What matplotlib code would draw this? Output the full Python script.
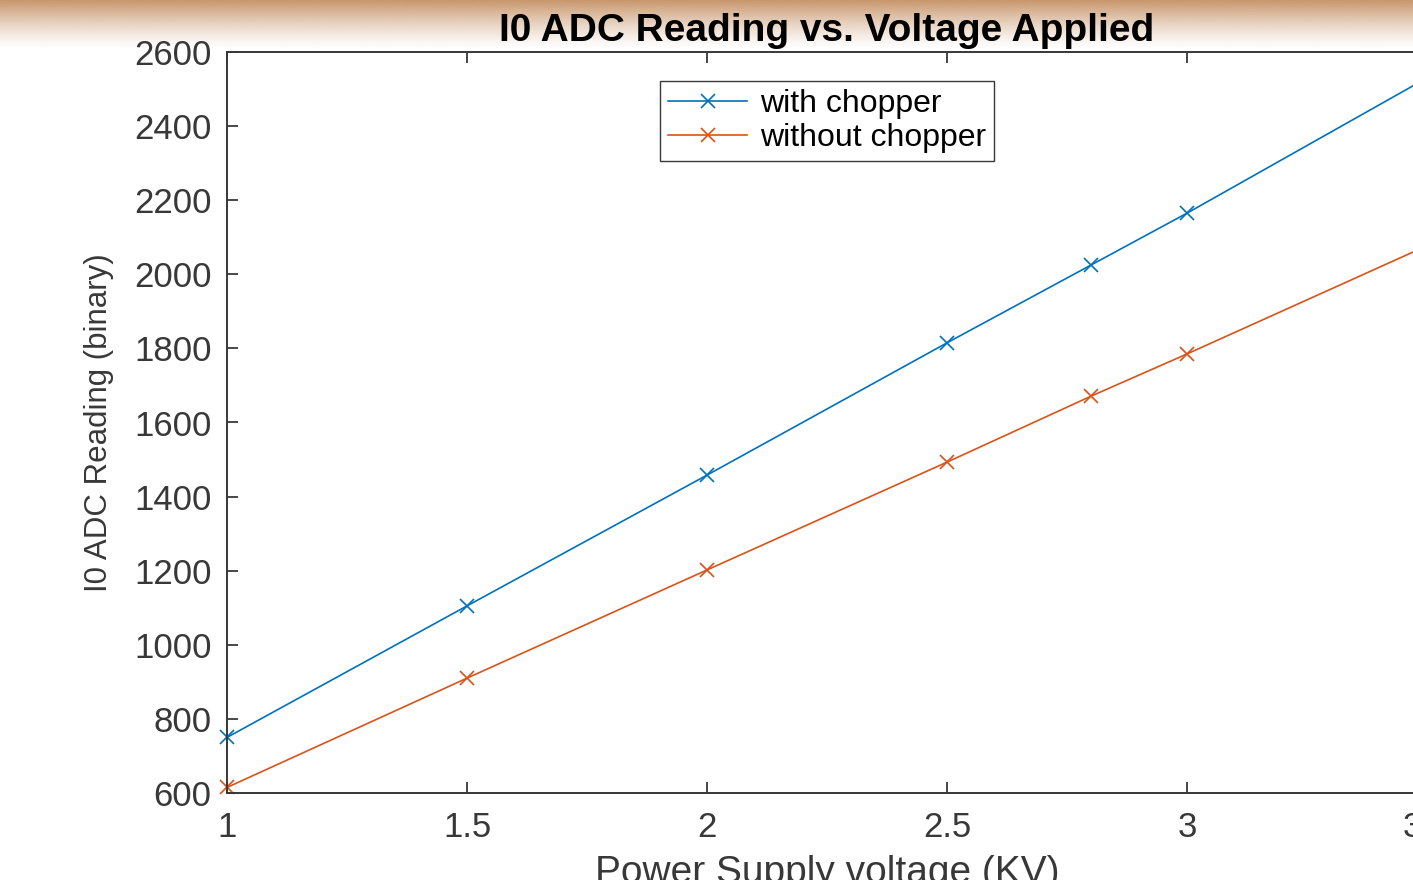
import numpy as np
import matplotlib
matplotlib.use("Agg")
import matplotlib.pyplot as plt

# ---- data ----
voltage = [1.0, 1.5, 2.0, 2.5, 2.8, 3.0, 3.5]
with_chopper = [750, 1105, 1458, 1815, 2025, 2165, 2530]
without_chopper = [615, 910, 1202, 1493, 1671, 1785, 2077]
series_labels = ["with chopper", "without chopper"]
x_ticks = [1, 1.5, 2, 2.5, 3, 3.5]
x_tick_labels = ["1", "1.5", "2", "2.5", "3", "3.5"]
y_ticks = [600, 800, 1000, 1200, 1400, 1600, 1800, 2000, 2200, 2400, 2600]

title = "I0 ADC Reading vs. Voltage Applied"
xlabel = "Power Supply voltage (KV)"
ylabel = "I0 ADC Reading (binary)"

W, H = 1413, 880
plt.rcParams['font.family'] = ['Liberation Sans', 'DejaVu Sans']
fig = plt.figure(figsize=(W / 100, H / 100), dpi=100)
fig.patch.set_facecolor('white')

# top gradient band
gax = fig.add_axes([0, 1 - 52 / H, 1, 52 / H], zorder=0)
n = 100
grad = np.zeros((n, 2, 4))
col = np.array([200, 150, 108]) / 255.0
t = np.linspace(0, 1, n)
alpha = np.clip(1 - t / 0.95, 0, 1) ** 1.3
for i in range(n):
    grad[i, :, :3] = col
    grad[i, :, 3] = alpha[i]
gax.imshow(grad, aspect='auto', extent=[0, 1, 0, 1], origin='upper')
gax.set_axis_off()

# main axes (extends past right edge, like the cropped original)
left, right, top, bottom = 227, 1427, 52, 793
ax = fig.add_axes([left / W, (H - bottom) / H, (right - left) / W, (bottom - top) / H], zorder=2)

blue = '#0072BD'
orange = '#D95319'
ax.plot(voltage, with_chopper, color=blue, lw=1.2, marker='x', ms=10, mew=1.2,
        label=series_labels[0], clip_on=False)
ax.plot(voltage, without_chopper, color=orange, lw=1.2, marker='x', ms=10, mew=1.2,
        label=series_labels[1], clip_on=False)

ax.set_xlim(1, 3.5)
ax.set_ylim(600, 2600)
ax.set_xticks(x_ticks)
ax.set_xticklabels(x_tick_labels)
ax.set_yticks(y_ticks)

axcol = '#383838'
for s in ax.spines.values():
    s.set_color(axcol)
    s.set_linewidth(1.4)
ax.tick_params(direction='in', length=8, width=1.3, color=axcol, labelcolor=axcol,
               labelsize=25, top=True, right=True, pad=11)
ax.tick_params(axis='x', pad=13)

ax.set_title(title, fontsize=28, fontweight='bold', color='black', pad=8)
ax.set_xlabel(xlabel, fontsize=28, color=axcol)
ax.xaxis.set_label_coords(0.5, -0.083)
ax.set_ylabel(ylabel, fontsize=22.5, color=axcol)
ax.yaxis.set_label_coords(-0.094, 0.5)

leg = ax.legend(loc='upper center', bbox_to_anchor=(0.5, 1 - 29 / 741), fontsize=23,
                frameon=True, fancybox=False, framealpha=1, edgecolor=axcol,
                handlelength=2.5, borderpad=0.25, labelspacing=0.12,
                handletextpad=0.4, borderaxespad=0)
leg.get_frame().set_linewidth(1.0)

fig.savefig('out.png', dpi=100)
